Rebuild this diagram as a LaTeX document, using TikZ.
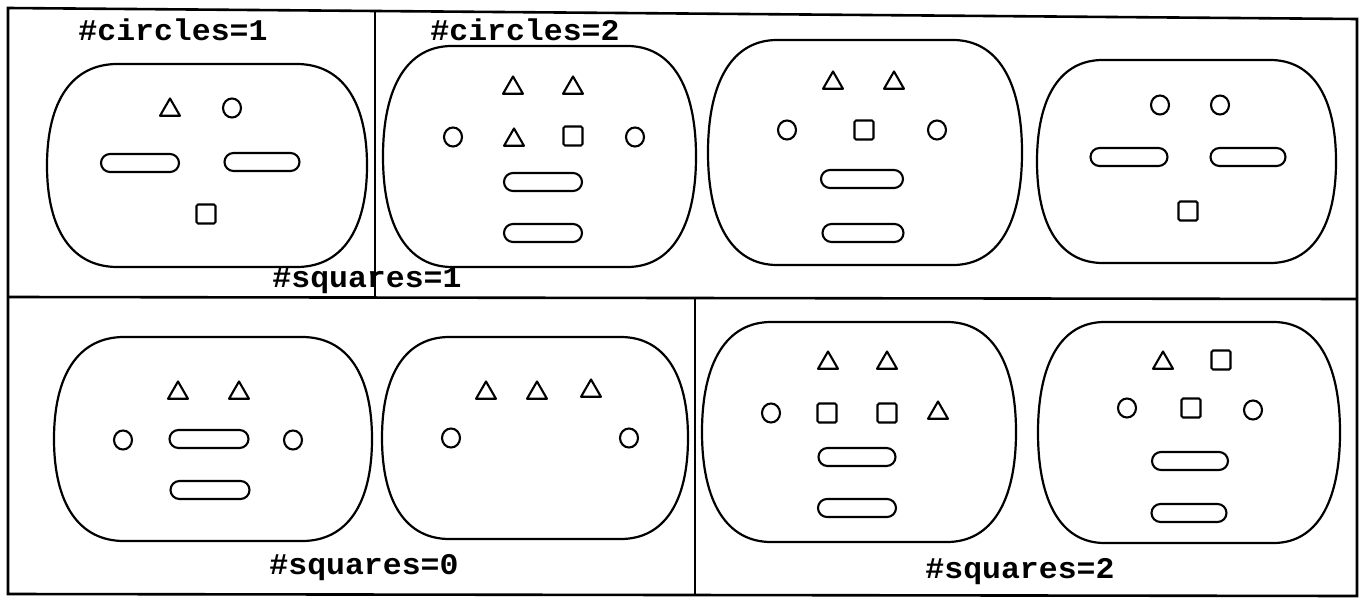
\documentclass[tikz,border=0pt]{standalone}
\usepackage{fontspec}
\newfontfamily\lblfont[FakeStretch=1.05]{Liberation Mono}
\usetikzlibrary{shapes.geometric}
\tikzset{
 face/.style={draw, line width=2.2pt, line join=round},
 tri/.style={draw, regular polygon, regular polygon sides=3, minimum size=23pt, inner sep=0pt, line width=2.1pt, line join=round, yshift=-3pt},
 circ/.style={draw, ellipse, minimum width=18pt, minimum height=19pt, inner sep=0pt, line width=2.1pt},
 sq/.style={draw, rectangle, minimum width=19pt, minimum height=19pt, inner sep=0pt, rounded corners=1.5pt, line width=2.1pt},
 pill/.style={draw, rectangle, minimum width=79pt, minimum height=18pt, inner sep=0pt, rounded corners=9pt, line width=2.1pt},
 lbl/.style={font=\lblfont\bfseries\fontsize{30}{30}\selectfont, inner sep=0pt},
 frame/.style={line width=2.6pt}
}
\newcommand\drawface[4]{%
 \pgfmathsetmacro\fa{0.22*(#3-#1)}%
 \pgfmathsetmacro\fb{0.5*(#4-#2)}%
 \pgfmathsetmacro\fm{0.5*(#2+#4)}%
 \pgfmathsetmacro\fk{0.64}%
 \draw[face] ({#1+\fa},#2) -- ({#3-\fa},#2)
  .. controls ({#3-\fa*(1-\fk)},#2) and (#3,{\fm-\fb*\fk}) .. (#3,\fm)
  .. controls (#3,{\fm+\fb*\fk}) and ({#3-\fa*(1-\fk)},#4) .. ({#3-\fa},#4)
  -- ({#1+\fa},#4)
  .. controls ({#1+\fa*(1-\fk)},#4) and (#1,{\fm+\fb*\fk}) .. (#1,\fm)
  .. controls (#1,{\fm-\fb*\fk}) and ({#1+\fa*(1-\fk)},#2) .. cycle;%
}
\begin{document}
\begin{tikzpicture}[x=1pt,y=-1pt]
\useasboundingbox (0,0) rectangle (1367,602);
% frame
\coordinate (tl) at (8,8);
\coordinate (tr) at (1357,19);
\coordinate (br) at (1357,596);
\coordinate (bl) at (8,594);
\draw[frame] (tl) -- (tr) -- (br) -- (bl) -- cycle;
\coordinate (ml) at (8,297);
\coordinate (mr) at (1357,299);
\draw[frame] (ml) -- (mr);
\coordinate (v1t) at (375,11);
\coordinate (v1b) at (375,297);
\draw[frame] (v1t) -- (v1b);
\coordinate (v2t) at (695,298);
\coordinate (v2b) at (695,595);
\draw[frame] (v2t) -- (v2b);
% faces
\drawface{47}{64}{367}{267}
\drawface{383}{46}{696}{267}
\drawface{708}{40}{1022}{265}
\drawface{1037}{60}{1336}{263}
\drawface{54}{337}{372}{541}
\drawface{382}{337}{688}{539}
\drawface{702}{322}{1016}{542}
\drawface{1038}{322}{1340}{543}
% F1
\node[tri] (f1t1) at (170,107) {};
\node[circ] (f1c1) at (232,108) {};
\node[pill, minimum width=78pt] (f1p1) at (140,163) {};
\node[pill, minimum width=75pt] (f1p2) at (262,162) {};
\node[sq] (f1s1) at (206,214) {};
% F2
\node[tri] (f2t1) at (513,85) {};
\node[tri] (f2t2) at (573,85) {};
\node[circ] (f2c1) at (453,137) {};
\node[tri] (f2t3) at (514,137) {};
\node[sq] (f2s1) at (573,136) {};
\node[circ] (f2c2) at (635,137) {};
\node[pill, minimum width=78pt] (f2p1) at (543,182) {};
\node[pill, minimum width=78pt] (f2p2) at (543,233) {};
% F3
\node[tri] (f3t1) at (833,80) {};
\node[tri] (f3t2) at (894,80) {};
\node[circ] (f3c1) at (787,130) {};
\node[sq] (f3s1) at (864,130) {};
\node[circ] (f3c2) at (937,130) {};
\node[pill, minimum width=82pt] (f3p1) at (862,179) {};
\node[pill, minimum width=81pt] (f3p2) at (863,233) {};
% F4
\node[circ] (f4c1) at (1160,105) {};
\node[circ] (f4c2) at (1220,105) {};
\node[pill, minimum width=77pt] (f4p1) at (1129,157) {};
\node[pill, minimum width=75pt] (f4p2) at (1248,157) {};
\node[sq] (f4s1) at (1188,211) {};
% F5
\node[tri] (f5t1) at (178,390) {};
\node[tri] (f5t2) at (239,390) {};
\node[circ] (f5c1) at (123,440) {};
\node[pill] (f5p1) at (209,439) {};
\node[circ] (f5c2) at (293,440) {};
\node[pill] (f5p2) at (210,490) {};
% F6
\node[tri] (f6t1) at (486,390) {};
\node[tri] (f6t2) at (537,390) {};
\node[tri] (f6t3) at (591,388) {};
\node[circ] (f6c1) at (451,438) {};
\node[circ] (f6c2) at (629,438) {};
% F7
\node[tri] (f7t1) at (828,360) {};
\node[tri] (f7t2) at (887,360) {};
\node[circ] (f7c1) at (771,413) {};
\node[sq] (f7s1) at (827,413) {};
\node[sq] (f7s2) at (887,413) {};
\node[tri] (f7t3) at (938,410) {};
\node[pill, minimum width=77pt] (f7p1) at (857,457) {};
\node[pill, minimum width=78pt] (f7p2) at (857,508) {};
% F8
\node[tri] (f8t1) at (1163,360) {};
\node[sq] (f8s1) at (1221,360) {};
\node[circ] (f8c1) at (1127,408) {};
\node[sq] (f8s2) at (1191,408) {};
\node[circ] (f8c2) at (1253,410) {};
\node[pill, minimum width=76pt] (f8p1) at (1190,461) {};
\node[pill, minimum width=75pt] (f8p2) at (1189,513) {};
% labels
\node[lbl] (l1) at (173,30) {\#circles=1};
\node[lbl] (l2) at (525,30) {\#circles=2};
\node[lbl] (l3) at (367,281) {\#squares=1};
\node[lbl] (l4) at (364,568) {\#squares=0};
\node[lbl] (l5) at (1020,572) {\#squares=2};
\end{tikzpicture}
\end{document}
